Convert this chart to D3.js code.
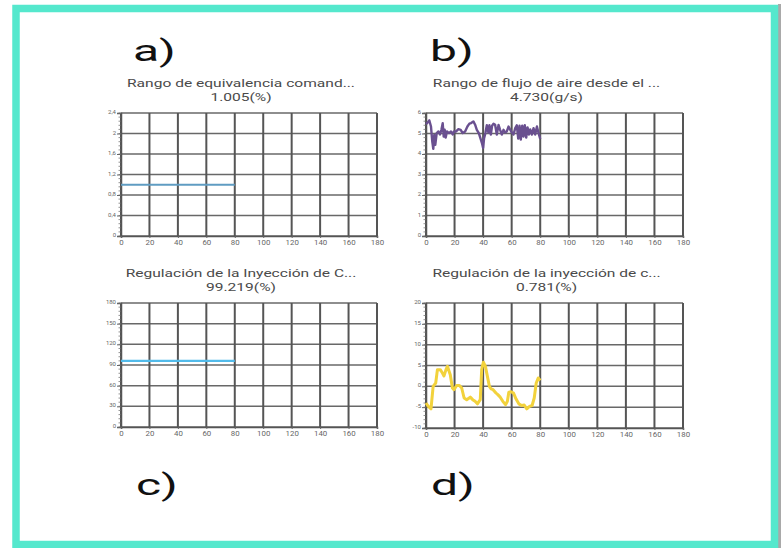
<!DOCTYPE html>
<html>
<head>
<meta charset="utf-8">
<script src="https://cdn.jsdelivr.net/npm/d3@7"></script>
<style>
  html, body { margin: 0; padding: 0; background: #ffffff; }
</style>
</head>
<body>
<div id="chart"></div>
<script>
// Panel data (time in seconds)
const xTicks = [0, 20, 40, 60, 80, 100, 120, 140, 160, 180];

const timeA = [0, 80];
const seriesA = [1.0, 1.0];
const yTicksA = [0, 0.4, 0.8, 1.2, 1.6, 2, 2.4];

const timeB = [0, 1.2, 2.3, 3.5, 4.4, 5.1, 5.8, 6.5, 7.5, 8.7, 9.8, 10.8, 11.7, 12.4, 13.1, 13.8, 14.7, 16.1, 17.5, 18.7,
  19.6, 21.1, 22.7, 24.3, 25.7, 27.4, 29.0, 30.4, 31.6, 33.2, 34.4, 35.6, 37.0, 38.1, 39.3, 40.0, 40.7, 41.6, 42.6, 43.7,
  44.4, 45.4, 46.3, 47.3, 48.4, 49.6, 50.8, 51.9, 53.1, 54.3, 55.4, 56.6, 57.8, 59.0, 60.1, 61.3, 62.5, 63.6, 64.6, 65.5,
  66.4, 67.4, 68.3, 69.2, 70.2, 71.1, 72.1, 73.0, 74.2, 75.3, 76.5, 77.7, 78.9, 80.0];
const seriesB = [5.45, 5.54, 5.64, 5.34, 4.6, 4.25, 4.93, 4.45, 5.02, 5.1, 4.95, 5.18, 5.5, 4.85, 5.18, 4.8, 5.1, 5.02, 5.1, 4.95,
  5.1, 5.1, 5.21, 5.18, 5.02, 5.1, 5.34, 5.48, 5.51, 5.59, 5.43, 5.18, 5.02, 4.77, 4.5, 4.3, 4.77, 5.02, 5.4, 5.05,
  5.4, 4.95, 5.38, 5.48, 5.43, 4.95, 5.42, 5.18, 4.95, 5.18, 5.05, 5.1, 5.34, 5.18, 5.05, 4.95, 5.26, 5.4, 4.75, 5.38,
  4.7, 5.38, 4.85, 5.4, 4.8, 5.3, 4.95, 5.2, 4.95, 5.26, 4.95, 5.34, 5.0, 4.73];
const yTicksB = [0, 1, 2, 3, 4, 5, 6];

const timeC = [0, 80];
const seriesC = [96, 96];
const yTicksC = [0, 30, 60, 90, 120, 150, 180];

const timeD = [0, 1.6, 3.5, 5, 6.8, 8, 10, 11.5, 12.6, 14, 15, 17, 18.5, 19.6, 21.5, 23.4, 25, 26.7, 28.5, 31,
  32.7, 34.4, 36, 38, 39, 40.2, 41.6, 43, 44.4, 45.6, 47, 49, 50.3, 52, 53.8, 55.7, 57, 58, 59.6, 61.3,
  63, 65, 67, 68.8, 70.6, 72.5, 74.3, 75.8, 77.2, 78.6, 80];
const seriesD = [-4, -4.8, -5.4, 0, 0.8, 4, 4, 3.2, 2.5, 4, 4.8, 2.8, -0.4, -0.8, 0.2, 0.2, -0.4, -2.8, -3.2, -2.6,
  -3.2, -3.6, -4.2, -3.2, 4, 5.8, 4.8, 2.4, 0, -0.6, -0.8, -1.6, -2, -2.6, -3.6, -4.4, -3.6, -1.4, -1.3, -1.6,
  -3, -4.2, -4.6, -4.5, -5.4, -4.8, -4.6, -2.8, 0.8, 2, 1.4];
const yTicksD = [-10, -5, 0, 5, 10, 15, 20];

const panels = [
  { tag: "a)", tagX: 133, title: "Rango de equivalencia comand...", value: "1.005(%)", time: timeA, series: seriesA, yTicks: yTicksA, color: "#5f9cc2", width: 2.2, box: [121, 377, 113, 236] },
  { tag: "b)", tagX: 430, title: "Rango de flujo de aire desde el ...", value: "4.730(g/s)", time: timeB, series: seriesB, yTicks: yTicksB, color: "#6a5090", width: 2.4, box: [426, 683, 113, 236] },
  { tag: "c)", tagX: 136, title: "Regulación de la Inyección de C...", value: "99.219(%)", time: timeC, series: seriesC, yTicks: yTicksC, color: "#52bbea", width: 2.2, box: [121, 377, 303, 427] },
  { tag: "d)", tagX: 431, title: "Regulación de la inyección de c...", value: "0.781(%)", time: timeD, series: seriesD, yTicks: yTicksD, color: "#f2d23c", width: 3, box: [426, 683, 303, 428] }
];

function makeChart(containerSelector) {
  const width = 781, height = 548;
  const fontFamily = "Roboto, 'Noto Sans', Arial, sans-serif";
  const stretch = 1.32; // the screenshot is stretched sideways

  const svg = d3.select(containerSelector).append("svg")
    .attr("width", width).attr("height", height);

  // Frame
  svg.append("rect").attr("x", 778).attr("y", 4).attr("width", 3).attr("height", 544).attr("fill", "#a9a9a9");
  svg.append("rect")
    .attr("x", 16).attr("y", 8.5).attr("width", 758.5).attr("height", 536)
    .attr("fill", "#ffffff").attr("stroke", "#55e8cd").attr("stroke-width", 7.5);

  const fmt = v => String(v).replace(".", ",");

  panels.forEach((p, i) => {
    const [x0, x1, yTop, yBot] = p.box;
    const xScale = d3.scaleLinear().domain([0, 180]).range([x0, x1]);
    const yScale = d3.scaleLinear().domain([p.yTicks[0], p.yTicks[p.yTicks.length - 1]]).range([yBot, yTop]);
    const g = svg.append("g");

    // Grid
    g.append("g").selectAll("line").data(p.yTicks).join("line")
      .attr("x1", x0).attr("x2", x1)
      .attr("y1", d => yScale(d)).attr("y2", d => yScale(d))
      .attr("stroke", "#686868").attr("stroke-width", 1.5);
    g.append("g").selectAll("line").data(xTicks).join("line")
      .attr("x1", d => xScale(d)).attr("x2", d => xScale(d))
      .attr("y1", yTop).attr("y2", yBot)
      .attr("stroke", "#555").attr("stroke-width", 2);

    // Minor ticks on the y axis
    const step = p.yTicks[1] - p.yTicks[0];
    const minor = d3.range(p.yTicks[0], p.yTicks[p.yTicks.length - 1] + step / 10, step / 5);
    g.append("g").selectAll("line").data(minor).join("line")
      .attr("x1", x0 - 2.5).attr("x2", x0)
      .attr("y1", d => yScale(d)).attr("y2", d => yScale(d))
      .attr("stroke", "#777").attr("stroke-width", 0.8);

    // Y axis
    const yAxis = d3.axisLeft(yScale).tickValues(p.yTicks).tickSize(4).tickPadding(1).tickFormat(fmt);
    const yg = g.append("g").attr("transform", `translate(${x0},0)`).call(yAxis);
    yg.select(".domain").attr("stroke", "#555").attr("stroke-width", 1.5);
    yg.selectAll(".tick line").attr("stroke", "#666");
    yg.selectAll("text").attr("font-family", fontFamily).attr("font-size", 6).attr("fill", "#666")
      .attr("dy", "0.1em");

    // X axis
    const xAxis = d3.axisBottom(xScale).tickValues(xTicks).tickSize(2).tickPadding(3);
    const xg = g.append("g").attr("transform", `translate(0,${yBot})`).call(xAxis);
    xg.select(".domain").attr("stroke", "#555").attr("stroke-width", 1.5);
    xg.selectAll(".tick line").attr("stroke", "#666");
    xg.selectAll("text").attr("font-family", fontFamily).attr("font-size", 6.3).attr("fill", "#666")
      .attr("transform", "scale(1.25,1)");

    // Series line
    const line = d3.line().x((d, j) => xScale(p.time[j])).y(d => yScale(d));
    g.append("path").datum(p.series)
      .attr("d", line).attr("fill", "none")
      .attr("stroke", p.color).attr("stroke-width", p.width)
      .attr("stroke-linejoin", "round");

    // Titles
    const cx = (x0 + x1) / 2 - 8;
    const tg = g.append("g").attr("transform", `translate(${cx},${yTop - 26}) scale(${stretch},1)`);
    tg.append("text").attr("x", 0).attr("y", 0).attr("text-anchor", "middle")
      .attr("font-family", fontFamily).attr("font-size", 11.8).attr("fill", "#4a4a4a").text(p.title);
    tg.append("text").attr("x", 0).attr("y", 14.5).attr("text-anchor", "middle")
      .attr("font-family", fontFamily).attr("font-size", 11.8).attr("fill", "#4a4a4a").text(p.value);

    // Panel tag
    const tagY = i < 2 ? 61 : 495;
    svg.append("text")
      .attr("transform", `translate(${p.tagX},${tagY}) scale(1.6,1)`)
      .attr("font-family", fontFamily).attr("font-size", 30).attr("fill", "#111").text(p.tag);
  });

  return svg.node();
}

makeChart("#chart");
</script>
</body>
</html>
